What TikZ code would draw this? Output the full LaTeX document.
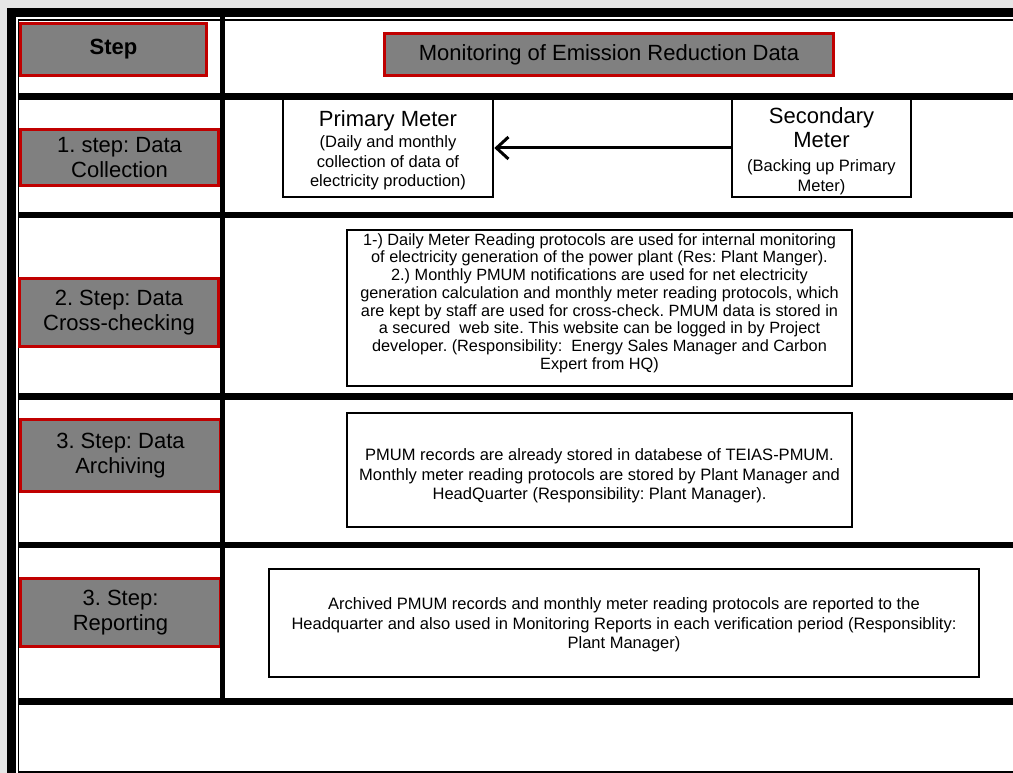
\documentclass[tikz,border=0pt]{standalone}
\usepackage{fontspec}
\setmainfont{Liberation Sans}
\usetikzlibrary{arrows.meta}
\definecolor{stepgray}{HTML}{808080}
\definecolor{stepred}{HTML}{C00000}
\definecolor{bggray}{HTML}{E6E6E6}
\frenchspacing
\begin{document}
\begin{tikzpicture}[x=1pt,y=-1pt,
  stepbox/.style={draw=stepred, fill=stepgray, line width=3pt, inner sep=0pt, align=center,
    font=\fontsize{22}{25}\selectfont},
  infobox/.style={draw=black, line width=2.5pt, fill=white, inner sep=0pt},
  infotext/.style={inner sep=0pt, align=center, font=\fontsize{16.5}{19.5}\selectfont},
  rowbar/.style={fill=black}]
\useasboundingbox (0,0) rectangle (1013,773);
% background and frame
\fill[bggray] (0,0) rectangle (1013,773);
\fill[white] (7,8) rectangle (1013,773);
\fill[black] (7,8) rectangle (1013,17);
\fill[black] (7,8) rectangle (16,773);
\draw[line width=1.5pt] (18.5,773) -- (18.5,20) -- (1013,20);
\draw[line width=1.5pt] (18,772) -- (1013,772);
% row bars
\fill[rowbar] (19,93) rectangle (1013,100);
\fill[rowbar] (19,212) rectangle (1013,218.5);
\fill[rowbar] (19,393) rectangle (1013,400);
\fill[rowbar] (19,541.5) rectangle (1013,548);
\fill[rowbar] (19,698) rectangle (1013,705);
% step boxes
\node[stepbox, minimum width=186pt, minimum height=52pt] (stephdr) at (113.5,49.5) {\textbf{Step}};
\node[stepbox, minimum width=198pt, minimum height=56pt] (s1) at (119.5,157.5) {1. step: Data\\Collection};
\node[stepbox, minimum width=199pt, minimum height=68pt] (s2) at (119,312.5) {2. Step: Data\\Cross-checking};
\node[stepbox, minimum width=200pt, minimum height=72pt] (s3) at (120.5,455.5) {3. Step: Data\\Archiving};
\node[stepbox, minimum width=200pt, minimum height=68pt] (s4) at (120.5,612.5) {3. Step:\\Reporting};
% column divider
\fill[black] (219.5,17) rectangle (225,705);
% header
\node[stepbox, minimum width=449pt, minimum height=42pt] (hdr) at (609,54.5) {Monitoring of Emission Reduction Data};
% meters
\node[infobox, minimum width=210pt, minimum height=98pt] (primary) at (388,148) {};
\node[infotext] (primarytext) at (388,150)
  {\fontsize{22}{24}\selectfont Primary Meter\\[2pt]
   (Daily and monthly\\collection of data of\\electricity production)};
\node[infobox, minimum width=179pt, minimum height=98pt] (secondary) at (821.5,148) {};
\node[infotext] (secondarytext) at (821.5,151)
  {\fontsize{22}{23}\selectfont Secondary\\[3pt]\fontsize{22}{23}\selectfont Meter\\[5pt]
   (Backing up Primary\\Meter)};
\draw[line width=3pt, -{Straight Barb[length=12pt,width=22pt,line width=3pt]}] (secondary.west) -- (primary.east);
% cross-check
\node[infobox, minimum width=505pt, minimum height=156pt] (cross) at (599.5,308) {};
\node[infotext, font=\fontsize{16.3}{17.7}\selectfont] (crosstext) at (599.5,303)
  {1-) Daily Meter Reading protocols are used for internal monitoring\\
   of electricity generation of the power plant (Res: Plant Manger).\\
   2.) Monthly PMUM notifications are used for net electricity\\
   generation calculation and monthly meter reading protocols, which\\
   are kept by staff are used for cross-check. PMUM data is stored in\\
   a secured\ \ web site. This website can be logged in by Project\\
   developer. (Responsibility:\ \ Energy Sales Manager and Carbon\\
   Expert from HQ)};
% archiving
\node[infobox, minimum width=505pt, minimum height=114pt] (archive) at (599.5,470) {};
\node[infotext] (archivetext) at (599.5,476)
  {PMUM records are already stored in databese of TEIAS-PMUM.\\
   Monthly meter reading protocols are stored by Plant Manager and\\
   HeadQuarter (Responsibility: Plant Manager).};
% reporting
\node[infobox, minimum width=710pt, minimum height=108pt] (report) at (624,623) {};
\node[infotext] (reporttext) at (624,625)
  {Archived PMUM records and monthly meter reading protocols are reported to the\\
   Headquarter and also used in Monitoring Reports in each verification period (Responsiblity:\\
   Plant Manager)};
\end{tikzpicture}
\end{document}
